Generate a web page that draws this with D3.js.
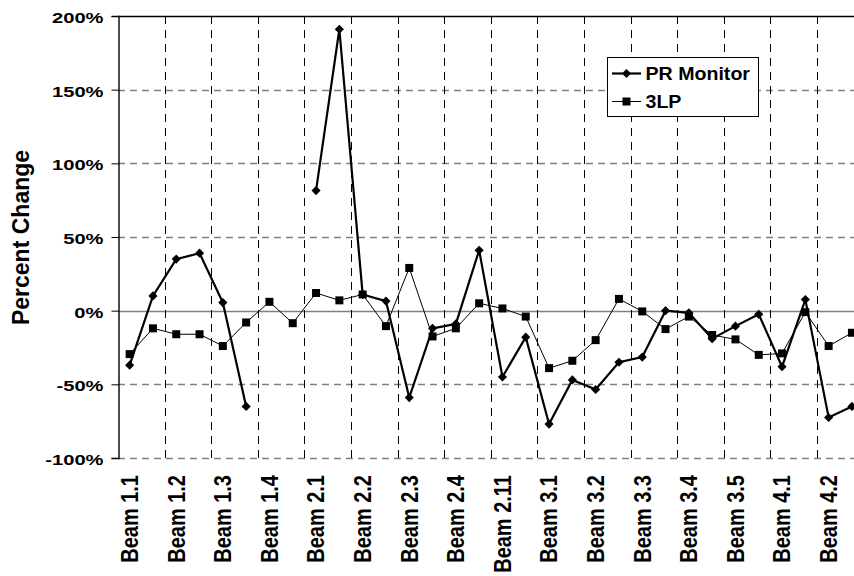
<!DOCTYPE html>
<html><head><meta charset="utf-8">
<script src="https://cdn.jsdelivr.net/npm/d3@7"></script>
<style>
body{margin:0;background:#fff}
svg{display:block}
text{font-family:"Liberation Sans",Arial,Helvetica,sans-serif;font-weight:bold;fill:#000}
</style>
</head><body>
<svg id="c" width="854" height="576"></svg>
<script>
// ---- data ----
const tickLabels = ["Beam 1.1","Beam 1.2","Beam 1.3","Beam 1.4","Beam 2.1","Beam 2.2","Beam 2.3","Beam 2.4",
  "Beam 2.11","Beam 3.1","Beam 3.2","Beam 3.3","Beam 3.4","Beam 3.5","Beam 4.1","Beam 4.2"];
const seriesNames = ["PR Monitor","3LP"];
// percent change, one value per measurement position (two positions per labelled beam)
const prMonitor = [-37, 10, 35, 39, 5.5, -65, null, null, 81.5, 191, 11, 6.5, -59, -12, -9, 41,
  -45, -18, -77, -47, -53.5, -35, -31.5, 0, -1.5, -19, -10.5, -2.5, -38, 7.5, -72.5, -65];
const lp3 = [-29.5, -12, -16, -16, -24, -8, 6, -8.5, 12, 7, 11, -10.5, 29, -17.5, -12, 5,
  1.5, -4, -39, -34, -20, 8, -0.5, -12.5, -4, -16.5, -19.5, -30, -29, -1, -24, -15];
const yTicks = [-100, -50, 0, 50, 100, 150, 200];

// ---- layout ----
const svg = d3.select("#c");
const pLeft = 118, pTop = 16, pBottom = 458, catW = 23.3;
const n = lp3.length;
const x = d3.scaleBand().domain(d3.range(n)).range([pLeft, pLeft + catW * n]).padding(0);
const cx = i => x(i) + x.bandwidth() / 2;
const y = d3.scaleLinear().domain([-100, 200]).range([pBottom, pTop]);
const plotRight = pLeft + catW * n;

// horizontal gridlines
const hg = svg.append("g");
yTicks.forEach(t => {
  const yy = Math.round(y(t)) + 0.5;
  const ln = hg.append("line").attr("x1", pLeft).attr("x2", plotRight).attr("y1", yy).attr("y2", yy);
  if (t === 200) ln.attr("stroke", "#000").attr("stroke-width", 1.3);
  else if (t === 0) ln.attr("stroke", "#808080").attr("stroke-width", 1.3);
  else ln.attr("stroke", "#808080").attr("stroke-width", 1.3).attr("stroke-dasharray", "7,5");
});

// vertical gridlines (between every pair of categories)
const vg = svg.append("g");
d3.range(2, n, 2).forEach(i => {
  const xx = Math.round(x(i)) + 0.5;
  vg.append("line").attr("x1", xx).attr("x2", xx).attr("y1", y(200)).attr("y2", y(-100))
    .attr("stroke", "#000").attr("stroke-width", 1).attr("stroke-dasharray", "8,6");
});

// y axis
const yAxis = svg.append("g").attr("transform", `translate(${pLeft + 0.5},0)`)
  .call(d3.axisLeft(y).tickValues(yTicks).tickSize(7).tickFormat(d => d + "%"));
yAxis.select(".domain").attr("stroke", "#000").attr("stroke-width", 1.4);
yAxis.selectAll(".tick line").attr("stroke", "#000");
yAxis.selectAll(".tick text").attr("x", 0).attr("dy", "0.42em")
  .attr("font-size", 15.5).attr("font-family", null)
  .attr("transform", "translate(-15,0) scale(1.3,1)");

// x axis labels
const xAxis = svg.append("g").attr("transform", `translate(0,${pBottom})`)
  .call(d3.axisBottom(x).tickValues(d3.range(0, n, 2)).tickSize(0).tickFormat(i => tickLabels[i / 2]));
xAxis.select(".domain").remove();
xAxis.selectAll(".tick text").attr("x", 0).attr("y", 0).attr("dy", "0.35em")
  .attr("text-anchor", "end").attr("font-size", 20).attr("font-family", null)
  .attr("transform", "translate(0,17) scale(1.2,1) rotate(-90)");

// axis title
svg.append("text").attr("transform", "translate(21,237.5) rotate(-90)")
  .attr("text-anchor", "middle").attr("dy", "0.35em").attr("font-size", 23).text("Percent Change");

// series
const line = d3.line().defined(d => d != null).x((d, i) => cx(i)).y(d => y(d));
const diamond = d3.symbol().type(d3.symbolSquare).size(42);
const square = d3.symbol().type(d3.symbolSquare).size(64);

svg.append("path").datum(lp3).attr("d", line).attr("fill", "none").attr("stroke", "#000").attr("stroke-width", 1);
svg.append("path").datum(prMonitor).attr("d", line).attr("fill", "none").attr("stroke", "#000").attr("stroke-width", 2.2);

svg.append("g").selectAll("path").data(lp3.map((v, i) => [i, v]).filter(d => d[1] != null)).join("path")
  .attr("d", square()).attr("transform", d => `translate(${cx(d[0])},${y(d[1])})`).attr("fill", "#000");
svg.append("g").selectAll("path").data(prMonitor.map((v, i) => [i, v]).filter(d => d[1] != null)).join("path")
  .attr("d", diamond()).attr("transform", d => `translate(${cx(d[0])},${y(d[1])}) rotate(45)`).attr("fill", "#000");

// legend
const lg = svg.append("g");
lg.append("rect").attr("x", 607.5).attr("y", 57.5).attr("width", 151).attr("height", 59)
  .attr("fill", "#fff").attr("stroke", "#000").attr("stroke-width", 1);
const entries = [
  {name: seriesNames[0], y: 73.5, w: 2.2, sym: diamond, rot: 45},
  {name: seriesNames[1], y: 101.5, w: 1, sym: square, rot: 0}
];
entries.forEach(e => {
  lg.append("line").attr("x1", 612).attr("x2", 641).attr("y1", e.y).attr("y2", e.y)
    .attr("stroke", "#000").attr("stroke-width", e.w);
  lg.append("path").attr("d", e.sym()).attr("transform", `translate(626.5,${e.y}) rotate(${e.rot})`).attr("fill", "#000");
  lg.append("text").attr("transform", `translate(645.5,${e.y}) scale(1.06,1)`).attr("dy", "0.36em")
    .attr("font-size", 18.5).text(e.name);
});
</script>
</body></html>
